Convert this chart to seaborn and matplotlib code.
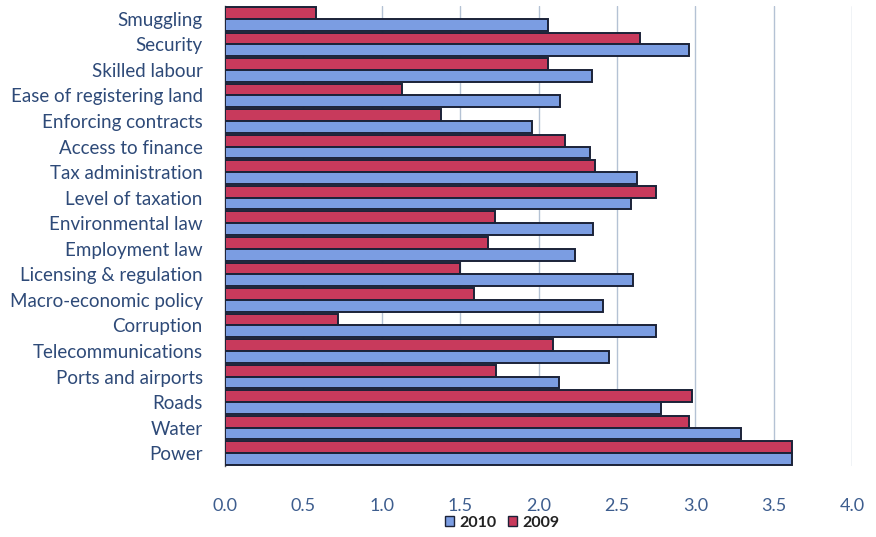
import numpy as np
import pandas as pd
import seaborn as sns
import matplotlib.pyplot as plt
from matplotlib.patches import Patch
from matplotlib.ticker import FixedLocator

categories = [
    "Smuggling", "Security", "Skilled labour", "Ease of registering land",
    "Enforcing contracts", "Access to finance", "Tax administration",
    "Level of taxation", "Environmental law", "Employment law",
    "Licensing & regulation", "Macro-economic policy", "Corruption",
    "Telecommunications", "Ports and airports", "Roads", "Water", "Power",
]
values_2010 = [2.06, 2.96, 2.34, 2.14, 1.96, 2.33, 2.63, 2.59, 2.35, 2.23,
               2.60, 2.41, 2.75, 2.45, 2.13, 2.78, 3.29, 3.62]
values_2009 = [0.58, 2.65, 2.06, 1.13, 1.38, 2.17, 2.36, 2.75, 1.72, 1.68,
               1.50, 1.59, 0.72, 2.09, 1.73, 2.98, 2.96, 3.62]
series = ["2010", "2009"]
xticks = [0.0, 0.5, 1.0, 1.5, 2.0, 2.5, 3.0, 3.5, 4.0]

df = pd.DataFrame({
    "factor": categories * 2,
    "score": values_2010 + values_2009,
    "year": [series[0]] * len(categories) + [series[1]] * len(categories),
})

blue = "#7b9de2"
red = "#c83a5c"
edge = "#1b2238"
text_col = "#2e4a78"
tick_col = "#3d5d8e"

sns.set_theme(style="white")
plt.rcParams["font.family"] = ["Lato", "DejaVu Sans"]

fig = plt.figure(figsize=(8.76, 5.37), dpi=100)
ax = fig.add_axes([225 / 876, 1 - 466 / 537, (852 - 225) / 876, (466 - 6) / 537])

sns.barplot(data=df, x="score", y="factor", hue="year", order=categories,
            hue_order=["2009", "2010"], palette={"2009": red, "2010": blue},
            orient="h", width=0.92, gap=0, errorbar=None, legend=False,
            saturation=1, edgecolor=edge, linewidth=1.4, ax=ax, zorder=3)

ax.set_xlim(0, 4.0)
ax.set_ylim(len(categories) - 0.5, -0.5)
ax.set_xticks(xticks)
ax.set_xticklabels([f"{t:.1f}" for t in xticks])
ax.grid(axis="x", color="#b4c2d4", linewidth=1.0, zorder=0)
ax.set_axisbelow(True)
ax.set_xlabel("")
ax.set_ylabel("")

for side in ["top", "right", "bottom"]:
    ax.spines[side].set_visible(False)
ax.spines["left"].set_color("#555555")
ax.spines["left"].set_linewidth(1.0)

ax.tick_params(axis="x", length=0, pad=23, labelsize=13, labelcolor=tick_col)
ax.tick_params(axis="y", which="major", length=0, pad=16, labelsize=13.5,
               labelcolor=text_col)
ax.yaxis.set_minor_locator(FixedLocator(np.arange(-0.5, len(categories), 1.0)))
ax.tick_params(axis="y", which="minor", length=6, width=1.0, color="#777777",
               direction="out")

handles = [Patch(facecolor=blue, edgecolor=edge, label=series[0]),
           Patch(facecolor=red, edgecolor=edge, label=series[1])]
fig.legend(handles=handles, loc="center", bbox_to_anchor=(502 / 876, 1 - 523 / 537),
           ncol=2, frameon=False, handlelength=0.6, handleheight=0.6,
           handletextpad=0.3, columnspacing=0.7,
           prop={"weight": "bold", "size": 11.5}, labelcolor="#222222")

fig.savefig("out.png", dpi=100)
